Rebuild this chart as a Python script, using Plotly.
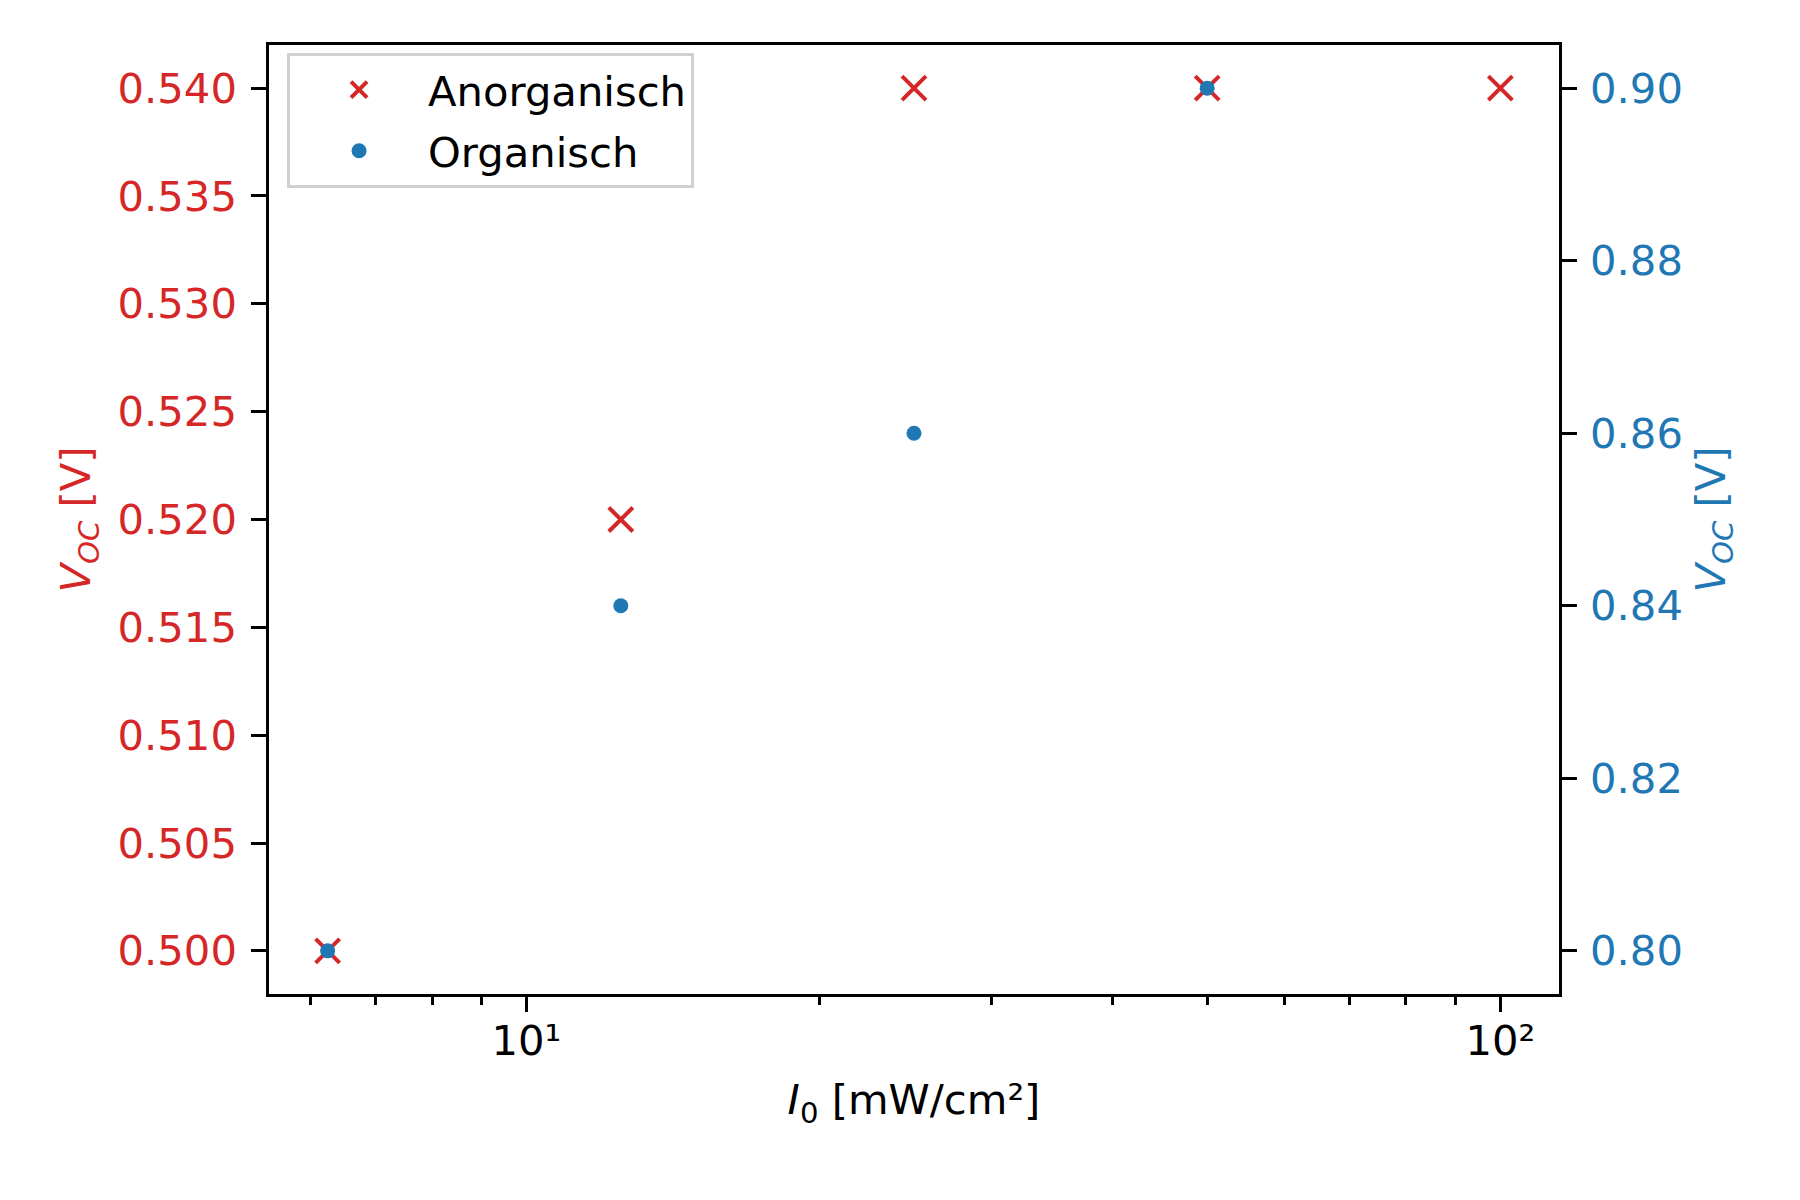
import plotly.graph_objects as go

# Messdaten: Bestrahlungsstärke und Leerlaufspannung
intensity_anorg = [6.25, 12.5, 25, 50, 100]
voc_anorg = [0.500, 0.520, 0.540, 0.540, 0.540]
intensity_org = [6.25, 12.5, 25, 50]
voc_org = [0.80, 0.84, 0.86, 0.90]

left_ticks = [0.500, 0.505, 0.510, 0.515, 0.520, 0.525, 0.530, 0.535, 0.540]
right_ticks = [0.80, 0.82, 0.84, 0.86, 0.88, 0.90]
x_ticks = [10, 100]
x_ticktext = ["10¹", "10²"]
x_minor = [6, 7, 8, 9, 20, 30, 40, 50, 60, 70, 80, 90]

RED = "#d62728"
BLUE = "#1f77b4"
FS = 41.7  # 10pt bei 300 dpi

fig = go.Figure()
fig.add_trace(go.Scatter(
    x=intensity_anorg, y=voc_anorg, mode="markers", name="Anorganisch",
    legendgroup="a",
    marker=dict(symbol="x-thin", size=24, color=RED,
                line=dict(color=RED, width=4)),
    yaxis="y",
))
fig.add_trace(go.Scatter(
    x=intensity_org, y=voc_org, mode="markers", name="Organisch",
    legendgroup="o",
    marker=dict(symbol="circle", size=15, color=BLUE, line=dict(width=0)),
    yaxis="y2",
))

axis_common = dict(showline=True, linecolor="black", linewidth=3.3,
                   ticks="outside", ticklen=14.6, tickwidth=3.3, tickcolor="black",
                   showgrid=False, zeroline=False, automargin=False)

# die Seite hat 8px Rand, daher Ränder etwas verschoben
fig.update_layout(
    width=1800, height=1200,
    margin=dict(l=261, r=249, t=37, b=214),
    plot_bgcolor="white", paper_bgcolor="white",
    font=dict(family="DejaVu Sans", size=FS, color="black"),
    xaxis=dict(
        type="log", range=[0.7357, 2.0602],
        tickmode="array", tickvals=x_ticks, ticktext=x_ticktext,
        mirror=True, ticklabelstandoff=-7,
        minor=dict(tickmode="array", tickvals=x_minor, ticks="outside",
                   ticklen=8.3, tickwidth=2.5, tickcolor="black", showgrid=False),
        title=dict(text="<i>I</i><sub>0</sub> [mW/cm²]", standoff=22,
                   font=dict(size=FS)),
        **axis_common,
    ),
    yaxis=dict(
        range=[0.498, 0.542], tickmode="array", tickvals=left_ticks,
        tickformat=".3f", tickfont=dict(color=RED), ticklabelstandoff=6,
        title=dict(text="<i>V</i><sub><i>OC</i></sub> [V]", font=dict(color=RED, size=FS),
                   standoff=14),
        **axis_common,
    ),
    yaxis2=dict(
        range=[0.795, 0.905], overlaying="y", side="right", anchor="x",
        tickmode="array", tickvals=right_ticks, tickformat=".2f",
        tickfont=dict(color=BLUE), ticklabelstandoff=5,
        title=dict(text="<i>V</i><sub><i>OC</i></sub> [V]", font=dict(color=BLUE, size=FS),
                   standoff=14),
        **axis_common,
    ),
    legend=dict(
        x=0.014, y=0.9916, xanchor="left", yanchor="top",
        bgcolor="rgba(255,255,255,0.8)", bordercolor="#d0d0d0", borderwidth=3,
        font=dict(size=FS), itemwidth=128, tracegroupgap=4,
    ),
    showlegend=True,
)

fig.write_html("out.html")
